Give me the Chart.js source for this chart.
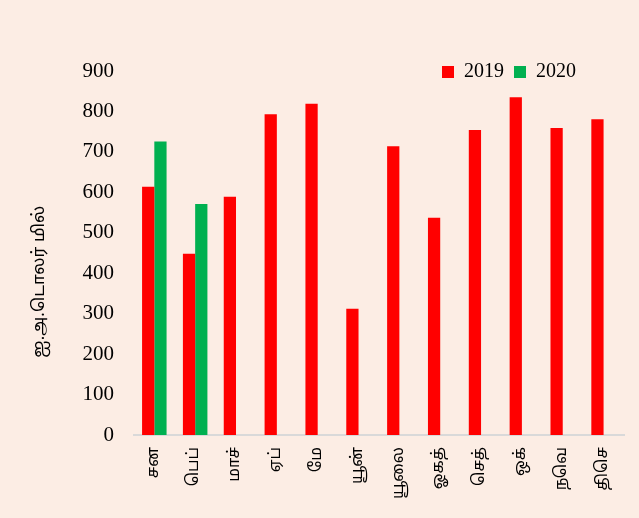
<!DOCTYPE html>
<html>
<head>
<meta charset="utf-8">
<script src="https://cdn.jsdelivr.net/npm/chart.js@4"></script>
<style>
  body { margin: 0; background: #fcede4; }
  #wrap { width: 639px; height: 518px; }
</style>
</head>
<body>
<div id="wrap"><canvas id="js--chart"></canvas></div>
<script>
const months = ["சன", "பெப்", "மாச்", "ஏப்", "மே", "யூன்", "யூலை", "ஓகத்", "செத்", "ஒக்", "நவெ", "திசெ"];
const values2019 = [614, 448, 589, 793, 819, 312, 714, 537, 754, 835, 759, 781];
const values2020 = [726, 571, null, null, null, null, null, null, null, null, null, null];
const yTicks = [0, 100, 200, 300, 400, 500, 600, 700, 800, 900];

const serif = "'Liberation Serif', 'DejaVu Serif', serif";
const tamil = "'Noto Sans Tamil', 'Latha', 'Noto Sans', sans-serif";

// legend sits inside the plot, over the right hand bars
const legendShift = {
    id: "legendShift",
    afterLayout(chart) {
        chart.legend.top += 21;
        chart.legend.bottom += 21;
        chart.legend.right -= 38;
    }
};

const data = {
    labels: months,
    datasets: [
        {
            label: "2019",
            data: values2019,
            backgroundColor: "#ff0000",
        },
        {
            label: "2020",
            data: values2020,
            backgroundColor: "#00b050",
        }
    ]
};

const config = {
    type: "bar",
    data: data,
    plugins: [legendShift],
    options: {
        responsive: true,
        maintainAspectRatio: false,
        animation: false,
        categoryPercentage: 0.6,
        barPercentage: 1,
        layout: {
            padding: { left: 26, right: 15, top: 31, bottom: 7 }
        },
        plugins: {
            legend: {
                position: "top",
                align: "end",
                labels: {
                    boxWidth: 12,
                    boxHeight: 12,
                    padding: 10,
                    color: "#000",
                    font: { family: serif, size: 20 }
                }
            },
            tooltip: { enabled: false }
        },
        scales: {
            x: {
                grid: { display: false, drawTicks: false },
                border: { display: true, color: "#d9d9d9", width: 2 },
                ticks: {
                    minRotation: 90,
                    maxRotation: 90,
                    padding: 12,
                    color: "#000",
                    font: { family: tamil, size: 16 }
                }
            },
            y: {
                min: 0,
                max: 900,
                afterBuildTicks: (scale) => {
                    scale.ticks = yTicks.map(v => ({ value: v }));
                },
                grid: { display: false, drawTicks: false },
                border: { display: false },
                ticks: {
                    padding: 20,
                    color: "#000",
                    font: { family: serif, size: 21 }
                },
                title: {
                    display: true,
                    text: "ஐ.அ.டொலர் மில்" + "\u00a0".repeat(13),
                    color: "#000",
                    padding: { top: 4, bottom: 12 },
                    font: { family: tamil, size: 17 }
                }
            }
        }
    }
};

const chart = new Chart(document.getElementById("js--chart"), config);
</script>
</body>
</html>
